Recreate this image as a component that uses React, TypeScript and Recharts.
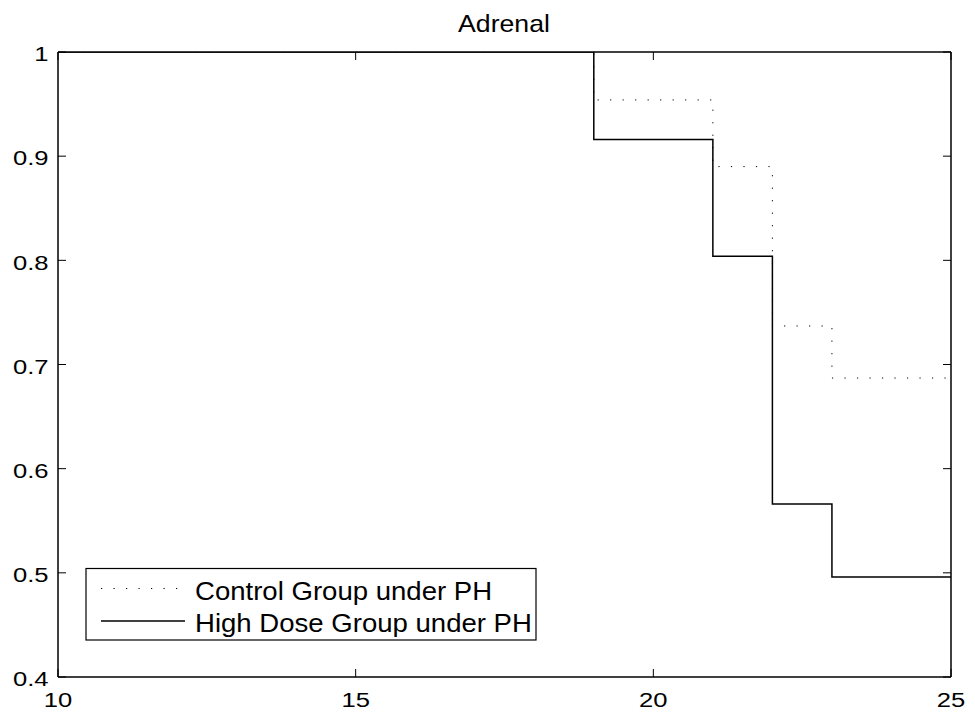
import { Line, LineChart, XAxis, YAxis } from "recharts";

const controlTimes = [10, 19, 21, 22, 23, 25];
const controlSurv = [1, 0.954, 0.89, 0.737, 0.687, 0.687];
const highTimes = [10, 19, 21, 22, 23, 25];
const highSurv = [1, 0.916, 0.804, 0.566, 0.496, 0.496];
const xTicks = [10, 15, 20, 25];
const yTicks = [0.4, 0.5, 0.6, 0.7, 0.8, 0.9, 1];
const seriesNames = ["Control Group under PH", "High Dose Group under PH"];

const controlData = controlTimes.map((t, i) => ({ t, s: controlSurv[i] }));
const highData = highTimes.map((t, i) => ({ t, s: highSurv[i] }));

const FONT = "'Liberation Sans', Arial, Helvetica, sans-serif";
const TICK_LEN = 8;
const DOTS = "1.2 11.3";

function LeftTick({ x, y, payload }: any) {
  return (
    <g>
      <line x1={x} x2={x + TICK_LEN} y1={y} y2={y} stroke="#000" strokeWidth={1} />
      <text
        transform={`translate(${x - 9.5},${y + 2}) scale(1.22,1)`}
        textAnchor="end"
        dominantBaseline="central"
        fontSize={21}
        fontFamily={FONT}
        fill="#000"
      >
        {String(payload.value)}
      </text>
    </g>
  );
}

function BottomTick({ x, y, payload }: any) {
  return (
    <g>
      <line x1={x} x2={x} y1={y} y2={y - TICK_LEN} stroke="#000" strokeWidth={1} />
      <text
        transform={`translate(${x},${y + 30}) scale(1.22,1)`}
        textAnchor="middle"
        fontSize={21}
        fontFamily={FONT}
        fill="#000"
      >
        {String(payload.value)}
      </text>
    </g>
  );
}

function RightTick({ x, y }: any) {
  return <line x1={x - TICK_LEN} x2={x} y1={y} y2={y} stroke="#000" strokeWidth={1} />;
}

function TopTick({ x, y }: any) {
  return <line x1={x} x2={x} y1={y} y2={y + TICK_LEN} stroke="#000" strokeWidth={1} />;
}

function Overlay() {
  return (
    <svg
      width={975}
      height={717}
      style={{ position: "absolute", left: 0, top: 0, pointerEvents: "none" }}
      fontFamily={FONT}
    >
      <text transform="translate(504,31.5) scale(1.11,1)" textAnchor="middle" fontSize={24} fill="#000">
        Adrenal
      </text>
      <rect x={86} y={568.5} width={450} height={71.5} fill="#fff" stroke="#000" strokeWidth={1.2} />
      <line x1={101} x2={180} y1={588.5} y2={588.5} stroke="#000" strokeWidth={1} strokeDasharray={DOTS} />
      <line x1={101} x2={185} y1={621} y2={621} stroke="#000" strokeWidth={1.3} />
      <text transform="translate(195,599.5) scale(1.06,1)" fontSize={26} fill="#000">
        {seriesNames[0]}
      </text>
      <text transform="translate(195,631.5) scale(1.06,1)" fontSize={26} fill="#000">
        {seriesNames[1]}
      </text>
    </svg>
  );
}

export default function App() {
  return (
    <div style={{ position: "fixed", left: 0, top: 0, width: 975, height: 717, background: "#fff" }}>
      <LineChart width={975} height={717} margin={{ top: 51, right: 23, bottom: 0, left: 0 }}>
        <XAxis
          xAxisId="b"
          type="number"
          dataKey="t"
          domain={[10, 25]}
          ticks={xTicks}
          orientation="bottom"
          height={40}
          tickSize={0}
          tickMargin={0}
          tickLine={false}
          axisLine={{ stroke: "#000", strokeWidth: 1.5 }}
          tick={(p: any) => <BottomTick {...p} />}
          allowDataOverflow
        />
        <XAxis
          xAxisId="t"
          type="number"
          dataKey="t"
          domain={[10, 25]}
          ticks={xTicks}
          orientation="top"
          height={1}
          tickSize={0}
          tickMargin={0}
          tickLine={false}
          axisLine={{ stroke: "#000", strokeWidth: 1.5 }}
          tick={(p: any) => <TopTick {...p} />}
          allowDataOverflow
        />
        <YAxis
          yAxisId="l"
          type="number"
          domain={[0.4, 1]}
          ticks={yTicks}
          orientation="left"
          width={58}
          tickSize={0}
          tickMargin={0}
          tickLine={false}
          axisLine={{ stroke: "#000", strokeWidth: 1.5 }}
          tick={(p: any) => <LeftTick {...p} />}
          allowDataOverflow
        />
        <YAxis
          yAxisId="r"
          type="number"
          domain={[0.4, 1]}
          ticks={yTicks}
          orientation="right"
          width={1}
          tickSize={0}
          tickMargin={0}
          tickLine={false}
          axisLine={{ stroke: "#000", strokeWidth: 1.5 }}
          tick={(p: any) => <RightTick {...p} />}
          allowDataOverflow
        />
        {/* invisible copy so the mirrored top/right axes get a domain */}
        <Line
          xAxisId="t"
          yAxisId="r"
          data={highData}
          dataKey="s"
          type="stepAfter"
          stroke="none"
          dot={false}
          activeDot={false}
          isAnimationActive={false}
          legendType="none"
        />
        <Line
          xAxisId="b"
          yAxisId="l"
          data={controlData}
          dataKey="s"
          type="stepAfter"
          stroke="#000"
          strokeWidth={1}
          strokeDasharray={DOTS}
          dot={false}
          activeDot={false}
          isAnimationActive={false}
          name={seriesNames[0]}
        />
        <Line
          xAxisId="b"
          yAxisId="l"
          data={highData}
          dataKey="s"
          type="stepAfter"
          stroke="#000"
          strokeWidth={1.5}
          dot={false}
          activeDot={false}
          isAnimationActive={false}
          name={seriesNames[1]}
        />
      </LineChart>
      <Overlay />
    </div>
  );
}
